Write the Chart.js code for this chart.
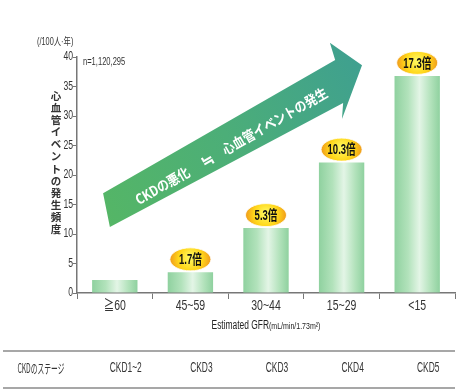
<!DOCTYPE html>
<html><head><meta charset="utf-8">
<script src="https://cdn.jsdelivr.net/npm/chart.js@4"></script>
<style>html,body{margin:0;padding:0;background:#fff;}canvas{display:block;}</style>
</head><body>
<canvas id="c" width="463" height="390"></canvas>
<script>
const categories = ['≧60', '45~59', '30~44', '15~29', '<15'];
const values = [2.2, 3.5, 11.0, 22.1, 36.8];
const ratioLabels = [null, '1.7倍', '5.3倍', '10.3倍', '17.3倍'];
const stageHeader = 'CKDのステージ';
const stageLabels = ['CKD1~2', 'CKD3', 'CKD3', 'CKD4', 'CKD5'];
const yAxisTitle = '心血管イベントの発生頻度';
const unitLabel = '(/100人·年)';
const nLabel = 'n=1,120,295';
const arrowText = ['CKDの悪化', '≒', '心血管イベントの発生'];

const FONT = '"Liberation Sans","Noto Sans CJK JP",sans-serif';
const JFONT = '"Noto Sans CJK JP","Liberation Sans",sans-serif';

function txt(ctx, s, x, y, font, sx, align, base) {
  ctx.save();
  ctx.font = font;
  ctx.translate(x, y);
  ctx.scale(sx, 1);
  ctx.textAlign = align || 'left';
  ctx.textBaseline = base || 'middle';
  ctx.fillText(s, 0, 0);
  ctx.restore();
}

const decor = {
  id: 'decor',
  beforeDatasetsDraw(chart) {
    const ctx = chart.ctx, ca = chart.chartArea, y = chart.scales.y;
    const P = (f, v) => [ca.left + f * ca.width, y.getPixelForValue(v)];
    const pts = [P(0.069, 16.9), P(0.683, 39.5), P(0.669, 42.4), P(0.754, 38.6),
                 P(0.701, 29.5), P(0.704, 32.2), P(0.087, 11.2)];
    ctx.save();
    const g = ctx.createLinearGradient(pts[0][0], pts[6][1], pts[3][0], pts[3][1]);
    g.addColorStop(0, '#55b665');
    g.addColorStop(0.5, '#4cae78');
    g.addColorStop(1, '#3fa08f');
    ctx.beginPath();
    pts.forEach((p, i) => i ? ctx.lineTo(p[0], p[1]) : ctx.moveTo(p[0], p[1]));
    ctx.closePath();
    ctx.fillStyle = g;
    ctx.fill();
    const t0 = P(0.069, 16.9), t1 = P(0.683, 39.5);
    const ang = Math.atan2(t1[1] - t0[1], t1[0] - t0[0]);
    const c = P(0.4, 24.6);
    ctx.translate(c[0], c[1]);
    ctx.rotate(ang);
    ctx.fillStyle = '#ffffff';
    txt(ctx, arrowText[0], -106, 0, 'bold 14px ' + JFONT, 0.85, 'left');
    txt(ctx, arrowText[1], -24, 0, 'bold 16px ' + JFONT, 0.9, 'center');
    txt(ctx, arrowText[2], -6, 0, 'bold 14px ' + JFONT, 0.85, 'left');
    ctx.restore();
  },
  afterDatasetsDraw(chart) {
    const ctx = chart.ctx, xs = chart.scales.x, y = chart.scales.y;
    ctx.save();
    ratioLabels.forEach((lab, i) => {
      if (!lab) return;
      const cx = xs.getPixelForValue(i);
      const cy = y.getPixelForValue(values[i]) - 13;
      const rx = 20.5, ry = 11.5;
      const rg = ctx.createRadialGradient(cx, cy - 2, 2, cx, cy, rx);
      rg.addColorStop(0, '#fff55a');
      rg.addColorStop(0.55, '#ffd619');
      rg.addColorStop(1, '#f09a1c');
      ctx.beginPath();
      ctx.ellipse(cx, cy, rx, ry, 0, 0, Math.PI * 2);
      ctx.fillStyle = rg;
      ctx.fill();
      ctx.strokeStyle = 'rgba(255,255,255,0.8)';
      ctx.lineWidth = 1;
      ctx.stroke();
      ctx.fillStyle = '#111';
      txt(ctx, lab, cx, cy + 1, 'bold 14px ' + FONT, 0.68, 'center');
    });
    ctx.restore();
  },
  afterDraw(chart) {
    const ctx = chart.ctx, ca = chart.chartArea, xs = chart.scales.x, ys = chart.scales.y;
    ctx.save();
    ctx.fillStyle = '#333';
    // tick labels (condensed)
    ys.ticks.forEach(t => txt(ctx, String(t.value), 73, ys.getPixelForValue(t.value), '12px ' + FONT, 0.72, 'right'));
    categories.forEach((c, i) => txt(ctx, c, xs.getPixelForValue(i), 306, '14px ' + FONT, 0.75, 'center'));
    // vertical y-axis title
    ctx.font = 'bold 10.5px ' + JFONT;
    ctx.textAlign = 'center';
    ctx.textBaseline = 'middle';
    Array.from(yAxisTitle).forEach((ch, i) => ctx.fillText(ch, 56, 96 + i * 12.1));
    // unit and n
    txt(ctx, unitLabel, 37, 42, '10.5px ' + FONT, 0.7, 'left');
    txt(ctx, nLabel, 83, 62, '10.5px ' + FONT, 0.72, 'left');
    // x-axis title with mixed size
    const t1 = 'Estimated GFR', t2 = '(mL/min/1.73m²)';
    const s1 = 0.7, s2 = 0.78;
    ctx.font = '12px ' + FONT;
    const w1 = ctx.measureText(t1).width * s1;
    ctx.font = '9px ' + FONT;
    const w2 = ctx.measureText(t2).width * s2;
    const sx = (ca.left + ca.right) / 2 - (w1 + w2) / 2;
    ctx.fillStyle = '#222';
    txt(ctx, t1, sx, 329, '12px ' + FONT, s1, 'left', 'alphabetic');
    txt(ctx, t2, sx + w1, 329, '9px ' + FONT, s2, 'left', 'alphabetic');
    // table
    ctx.strokeStyle = '#8a8a8a';
    ctx.lineWidth = 1.5;
    ctx.beginPath();
    ctx.moveTo(3, 351); ctx.lineTo(ca.right, 351);
    ctx.moveTo(3, 388); ctx.lineTo(ca.right, 388);
    ctx.stroke();
    ctx.fillStyle = '#333';
    txt(ctx, stageHeader, 41, 368, '13px ' + JFONT, 0.52, 'center');
    stageLabels.forEach((s, i) => txt(ctx, s, xs.getPixelForValue(i) + 11, 368, '14px ' + FONT, 0.6, 'center'));
    ctx.restore();
  }
};

new Chart(document.getElementById('c'), {
  type: 'bar',
  data: {
    labels: categories,
    datasets: [{
      data: values,
      categoryPercentage: 0.6,
      barPercentage: 1.0,
      borderWidth: 0,
      backgroundColor: (ctx) => {
        const chart = ctx.chart, xs = chart.scales.x, ca = chart.chartArea;
        if (!xs || !ca || ctx.type !== 'data') return '#a5dcb0';
        const cx = xs.getPixelForValue(ctx.dataIndex);
        const w = ca.width / categories.length * 0.6;
        const g = chart.ctx.createLinearGradient(cx - w / 2, 0, cx + w / 2, 0);
        g.addColorStop(0, '#8fd19f');
        g.addColorStop(0.3, '#b2e2bb');
        g.addColorStop(0.55, '#e3f5e6');
        g.addColorStop(0.8, '#b2e2bb');
        g.addColorStop(1, '#8fd19f');
        return g;
      }
    }]
  },
  options: {
    responsive: false,
    animation: false,
    devicePixelRatio: 1,
    layout: { padding: { left: 0, top: 57, right: 8, bottom: 73 } },
    plugins: { legend: { display: false }, tooltip: { enabled: false } },
    scales: {
      x: {
        afterFit: s => { s.height = 24; },
        grid: { offset: true, drawOnChartArea: false, drawTicks: true, tickLength: 6, color: '#777', lineWidth: 1 },
        border: { display: true, color: '#777', width: 1.5 },
        ticks: { color: 'rgba(0,0,0,0)', font: { size: 11, family: FONT }, padding: 2, maxRotation: 0 }
      },
      y: {
        min: 0, max: 40,
        afterFit: s => { s.width = 77; },
        grid: { drawOnChartArea: false, drawTicks: true, tickLength: 4, color: '#777', lineWidth: 1 },
        border: { display: true, color: '#777', width: 1.5 },
        ticks: { stepSize: 5, color: 'rgba(0,0,0,0)', font: { size: 11, family: FONT }, padding: 1 }
      }
    }
  },
  plugins: [decor]
});
</script>
</body></html>
